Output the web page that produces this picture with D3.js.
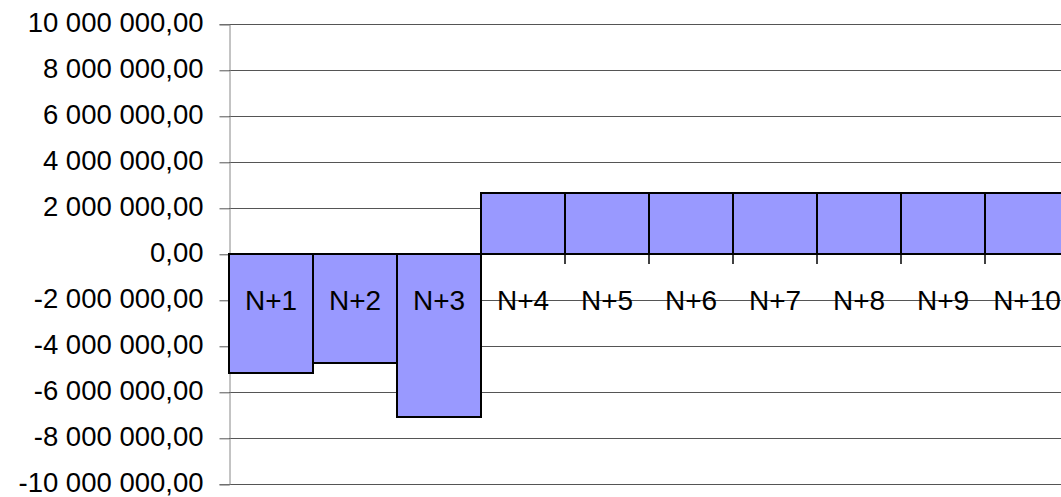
<!DOCTYPE html>
<html>
<head>
<meta charset="utf-8">
<script src="https://cdn.jsdelivr.net/npm/d3@7"></script>
<style>
  html, body { margin: 0; padding: 0; background: #fff; overflow: hidden; }
  svg { display: block; font-family: "Liberation Sans", Arial, sans-serif; }
</style>
</head>
<body>
<svg id="chart" width="1061" height="497"></svg>
<script>
const categories = ["N+1", "N+2", "N+3", "N+4", "N+5", "N+6", "N+7", "N+8", "N+9", "N+10"];
const values = [-5150000, -4710000, -7060000, 2650000, 2650000, 2650000, 2650000, 2650000, 2650000, 2650000];
const yTicks = [-10000000, -8000000, -6000000, -4000000, -2000000, 0, 2000000, 4000000, 6000000, 8000000, 10000000];

(function () {
const svg = d3.select("#chart");
const plotLeft = 229, plotRight = 1069, plotTop = 24.3, plotBottom = 484.3;

const x = d3.scaleBand().domain(categories).range([plotLeft, plotRight]).padding(0);
const y = d3.scaleLinear().domain([-10000000, 10000000]).range([plotBottom, plotTop]);

function fmt(v) {
  const s = Math.abs(v).toFixed(2).split(".");
  const intPart = s[0].replace(/\B(?=(\d{3})+(?!\d))/g, " ");
  return (v < 0 ? "-" : "") + intPart + "," + s[1];
}

// gridlines
svg.append("g").selectAll("line").data(yTicks).join("line")
  .attr("x1", plotLeft).attr("x2", plotRight)
  .attr("y1", d => Math.round(y(d)) + 0.5).attr("y2", d => Math.round(y(d)) + 0.5)
  .attr("stroke", "#555").attr("stroke-width", 1);

// y axis
const yAxis = d3.axisLeft(y).tickValues(yTicks).tickFormat(fmt).tickSize(10).tickPadding(16);
const gy = svg.append("g").attr("transform", `translate(${plotLeft + 0.5},0)`).call(yAxis);
gy.select(".domain").attr("stroke", "#888");
gy.selectAll(".tick line").attr("stroke", "#555");
gy.selectAll(".tick text").attr("font-size", 27.5).attr("fill", "#000")
  .attr("y", -1.5)
  .attr("font-family", "Liberation Sans, Arial, sans-serif");

// bars
svg.append("g").selectAll("rect").data(values).join("rect")
  .attr("x", (d, i) => x(categories[i]))
  .attr("y", d => Math.round(y(Math.max(0, d))))
  .attr("width", x.bandwidth())
  .attr("height", d => Math.abs(Math.round(y(d)) - Math.round(y(0))))
  .attr("fill", "#9999ff")
  .attr("stroke", "#000")
  .attr("stroke-width", 2);

// x axis at zero
const zeroY = Math.round(y(0));
svg.append("line").attr("x1", plotLeft).attr("x2", plotRight)
  .attr("y1", zeroY).attr("y2", zeroY)
  .attr("stroke", "#000").attr("stroke-width", 2);

// category tick marks at band boundaries
const bounds = categories.map(c => x(c)).concat([plotRight]);
svg.append("g").selectAll("line").data(bounds).join("line")
  .attr("x1", d => d).attr("x2", d => d)
  .attr("y1", zeroY).attr("y2", zeroY + 10)
  .attr("stroke", "#000").attr("stroke-width", 1.5);

// category labels
svg.append("g").selectAll("text").data(categories).join("text")
  .attr("x", d => x(d) + x.bandwidth() / 2)
  .attr("y", 310)
  .attr("text-anchor", "middle")
  .attr("font-size", 28)
  .attr("fill", "#000")
  .text(d => d);
})();
</script>
</body>
</html>
